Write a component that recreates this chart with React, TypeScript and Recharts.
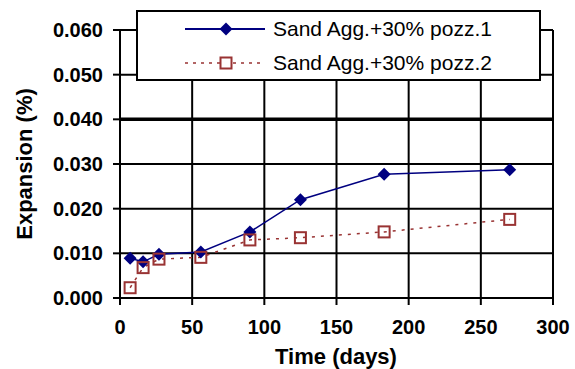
import React from 'react';
import { LineChart, Line, XAxis, YAxis, CartesianGrid, ReferenceLine, Legend, Label } from 'recharts';

const days = [7, 16, 27, 56, 90, 125, 183, 270];
const pozz1 = [0.0089, 0.0081, 0.0098, 0.0103, 0.0148, 0.022, 0.0277, 0.0287];
const pozz2 = [0.0023, 0.0068, 0.0087, 0.0091, 0.013, 0.0135, 0.0148, 0.0176];
const seriesNames = ['Sand Agg.+30% pozz.1', 'Sand Agg.+30% pozz.2'];
const xTicks = [0, 50, 100, 150, 200, 250, 300];
const yTicks = [0, 0.01, 0.02, 0.03, 0.04, 0.05, 0.06];
const limitLine = 0.04;

const data = days.map((d, i) => ({ day: d, p1: pozz1[i], p2: pozz2[i] }));

const BLUE = '#000080';
const RED = '#993333';
const FONT = '"Liberation Sans", Arial, sans-serif';

const Diamond = (props: any) => {
  const { cx, cy, index } = props;
  return <path key={`d${index}`} d={`M${cx} ${cy - 6.5} L${cx + 6.5} ${cy} L${cx} ${cy + 6.5} L${cx - 6.5} ${cy} Z`} fill={BLUE} />;
};

const Square = (props: any) => {
  const { cx, cy, index } = props;
  return <rect key={`s${index}`} x={cx - 5.5} y={cy - 5.5} width={11} height={11} fill="none" stroke={RED} strokeWidth={2} />;
};

function LegendBox() {
  return (
    <div style={{ fontFamily: FONT, fontSize: 21, color: '#000' }}>
      {seriesNames.map((name, i) => (
        <div key={name} style={{ position: 'absolute', left: 0, top: i === 0 ? 2 : 36, height: 30, display: 'flex', alignItems: 'center' }}>
          <svg width={135} height={30} style={{ display: 'block' }}>
            {i === 0 ? (
              <>
                <line x1={47} y1={15} x2={127} y2={15} stroke={BLUE} strokeWidth={2} />
                <path d="M88 8.5 L94.5 15 L88 21.5 L81.5 15 Z" fill={BLUE} />
              </>
            ) : (
              <>
                <line x1={47} y1={15} x2={127} y2={15} stroke={RED} strokeWidth={1.5} strokeDasharray="3 5" />
                <rect x={82.5} y={9.5} width={11} height={11} fill="#fff" stroke={RED} strokeWidth={2} />
              </>
            )}
          </svg>
          <span style={{ whiteSpace: 'nowrap' }}>{name}</span>
        </div>
      ))}
    </div>
  );
}

export default function App() {
  const tick = { fontSize: 20, fontWeight: 'bold', fill: '#000', fontFamily: FONT };
  return (
    <div style={{ position: 'absolute', left: 0, top: 0, background: '#fff' }}>
      <LineChart width={575} height={369} data={data} margin={{ top: 30, right: 22, left: 0, bottom: 0 }}>
        <CartesianGrid stroke="#000" strokeWidth={2} />
        <XAxis
          dataKey="day"
          type="number"
          domain={[0, 300]}
          ticks={xTicks}
          height={71}
          tick={tick}
          tickSize={7}
          tickMargin={15}
          axisLine={{ stroke: '#000', strokeWidth: 2 }}
          tickLine={{ stroke: '#000', strokeWidth: 2 }}
        >
          <Label
            content={() => (
              <text x={336} y={364} textAnchor="middle" fontSize={22} fontWeight="bold" fontFamily={FONT} fill="#000">
                Time (days)
              </text>
            )}
          />
        </XAxis>
        <YAxis
          type="number"
          domain={[0, 0.06]}
          ticks={yTicks}
          width={120}
          tick={tick}
          tickSize={7}
          tickMargin={10}
          tickFormatter={(v: number) => v.toFixed(3)}
          axisLine={{ stroke: '#000', strokeWidth: 2 }}
          tickLine={{ stroke: '#000', strokeWidth: 2 }}
        >
          <Label
            content={() => (
              <text x={24} y={164} transform="rotate(-90 24 164)" textAnchor="middle" dominantBaseline="central" fontSize={22} fontWeight="bold" fontFamily={FONT} fill="#000">
                Expansion (%)
              </text>
            )}
          />
        </YAxis>
        <ReferenceLine y={limitLine} stroke="#000" strokeWidth={3.5} />
        <Legend
          layout="horizontal"
          align="center"
          verticalAlign="middle"
          content={() => <LegendBox />}
          wrapperStyle={{ position: 'absolute', left: 136, top: 10, width: 405, height: 71, border: '2px solid #000', background: '#fff', boxSizing: 'border-box' }}
        />
        <Line type="linear" dataKey="p1" name={seriesNames[0]} stroke={BLUE} strokeWidth={1.5} dot={Diamond} activeDot={false} isAnimationActive={false} />
        <Line type="linear" dataKey="p2" name={seriesNames[1]} stroke={RED} strokeWidth={1.5} strokeDasharray="3 6" dot={Square} activeDot={false} isAnimationActive={false} />
      </LineChart>
    </div>
  );
}
